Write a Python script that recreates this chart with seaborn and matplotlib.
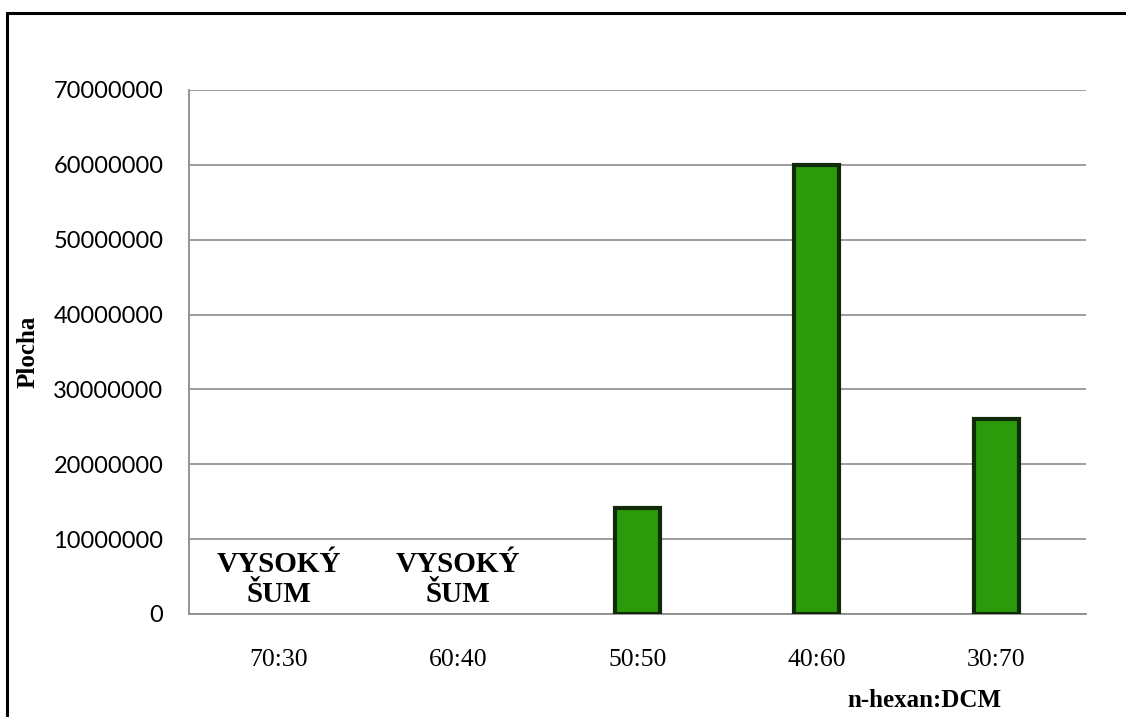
import matplotlib
matplotlib.use("Agg")
import matplotlib.pyplot as plt
import seaborn as sns
import numpy as np
import pandas as pd
from matplotlib.lines import Line2D
from matplotlib.ticker import FixedLocator

categories = ["70:30", "60:40", "50:50", "40:60", "30:70"]
values = [np.nan, np.nan, 14200000, 60000000, 26100000]
notes = ["VYSOKÝ\nŠUM", "VYSOKÝ\nŠUM", "", "", ""]
yticks = [0, 10000000, 20000000, 30000000, 40000000, 50000000, 60000000, 70000000]
ylabel = "Plocha"
xlabel = "n-hexan:DCM"

sns.set_theme(style="white")
plt.rcParams['font.family'] = ['Lato', 'DejaVu Sans']
plt.rcParams['text.color'] = 'black'
plt.rcParams['xtick.color'] = 'black'
plt.rcParams['ytick.color'] = 'black'

df = pd.DataFrame({"cat": categories, "val": values})

fig = plt.figure(figsize=(11.26, 7.17), dpi=100)
ax = fig.add_axes([189/1126, 1 - 614/717, (1086-189)/1126, (614-90)/717])

grey = "#8C8C8C"
sns.barplot(data=df, x="cat", y="val", order=categories, ax=ax,
            color="#2B9B0B", saturation=1, width=0.25,
            edgecolor="#112B0A", linewidth=3.0, errorbar=None, zorder=3)
for p in ax.patches:
    p.set_facecolor("#2B9B0B")

ax.set_xlim(-0.5, len(categories) - 0.5)
ax.set_ylim(0, 70000000)
ax.set_yticks(yticks)
ax.set_yticklabels([str(v) for v in yticks])
ax.yaxis.grid(True, color=grey, linewidth=1.2, zorder=0)
ax.xaxis.grid(False)
ax.set_axisbelow(True)

for s in ["top", "right"]:
    ax.spines[s].set_visible(False)
for s in ["left", "bottom"]:
    ax.spines[s].set_color(grey)
    ax.spines[s].set_linewidth(1.3)

ax.tick_params(axis="y", which="major", direction="out", length=5, width=1.2,
               color=grey, pad=13.5, labelsize=17, labelcolor="black")
ax.tick_params(axis="x", which="major", length=0, pad=25, labelsize=18.5,
               labelcolor="black")
ax.xaxis.set_minor_locator(FixedLocator(np.arange(-0.5, len(categories), 1.0)))
ax.tick_params(axis="x", which="minor", direction="out", length=5.8, width=1.2, color=grey)
for lbl in ax.get_xticklabels():
    lbl.set_family("Liberation Serif")
ax.set_xlabel("")
ax.set_ylabel("")

for i, t in enumerate(notes):
    if t:
        ax.text(i, 4600000, t, ha="center", va="center", fontsize=21,
                fontweight="bold", family="Liberation Serif", linespacing=1.15,
                color="black", zorder=5)

fig.text(28/1126, 1 - 352/717, ylabel, rotation=90, ha="center", va="center",
         fontsize=18, fontweight="bold", family="Liberation Serif", color="black")
fig.text(1001/1126, 1 - 707/717, xlabel, ha="right", va="baseline",
         fontsize=18, fontweight="bold", family="Liberation Serif", color="black")

# outer chart border (top and left edges visible in the frame)
fig.add_artist(Line2D([7/1126, 7/1126], [0, 1 - 13/717], transform=fig.transFigure,
                      color="black", linewidth=2.2))
fig.add_artist(Line2D([7/1126, 1], [1 - 13/717, 1 - 13/717], transform=fig.transFigure,
                      color="black", linewidth=2.2))

fig.savefig("out.png", dpi=100)
